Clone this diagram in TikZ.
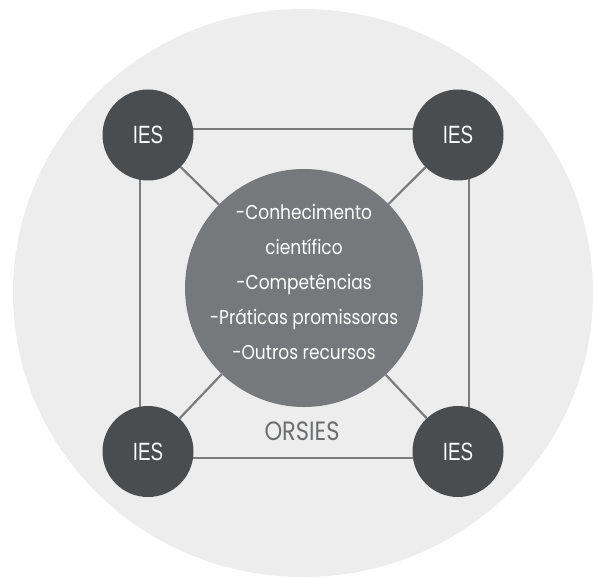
\documentclass[tikz,border=0pt]{standalone}
\usepackage{fontspec}
\newfontfamily\geofont{Poppins}[FakeStretch=0.85]
\newfontfamily\iesfont{Liberation Sans}[FakeStretch=0.75]
\usetikzlibrary{backgrounds}
\definecolor{discbg}{HTML}{EDEDED}
\definecolor{iesgray}{HTML}{4B4C4E}
\definecolor{hubgray}{HTML}{77787B}
\definecolor{linkgray}{HTML}{7A7B7D}
\definecolor{labelgray}{HTML}{6D6E70}

\begin{document}
\begin{tikzpicture}[x=1pt,y=-1pt,
    ies/.style={circle,fill=iesgray,minimum size=91pt,inner sep=0pt,text=white,
      font=\iesfont\fontsize{25}{28}\selectfont},
    hub/.style={circle,fill=hubgray,minimum size=238pt,inner sep=0pt},
    hubtext/.style={text=white,align=center,inner sep=0pt,
      font=\geofont\fontsize{20}{35}\selectfont},
    link/.style={linkgray,line width=2.2pt}]
  \useasboundingbox (0,0) rectangle (593,577);

  \node[hub] (hub) at (304,288) {};
  \node[hubtext] (items) at (304,282) {-Conhecimento\\científico\\-Competências\\-Práticas promissoras\\-Outros recursos};
  \node[ies] (tl) at (148,135) {IES};
  \node[ies] (tr) at (458,135) {IES};
  \node[ies] (bl) at (148,451.5) {IES};
  \node[ies] (br) at (458,451.5) {IES};
  \node[text=labelgray,font=\geofont\fontsize{26.5}{30}\selectfont] (orsies) at (302,431) {ORSIES};

  \begin{pgfonlayer}{background}
    \fill[discbg] (303,293) ellipse [x radius=290, y radius=284];
    % network lines
    \draw[link] ([shift={(-8pt,6pt)}]tl.center) rectangle ([shift={(11pt,-6.5pt)}]br.center);
    \foreach \c in {tl,tr,bl,br}
      \draw[link] (\c) -- (hub);
  \end{pgfonlayer}
\end{tikzpicture}
\end{document}
